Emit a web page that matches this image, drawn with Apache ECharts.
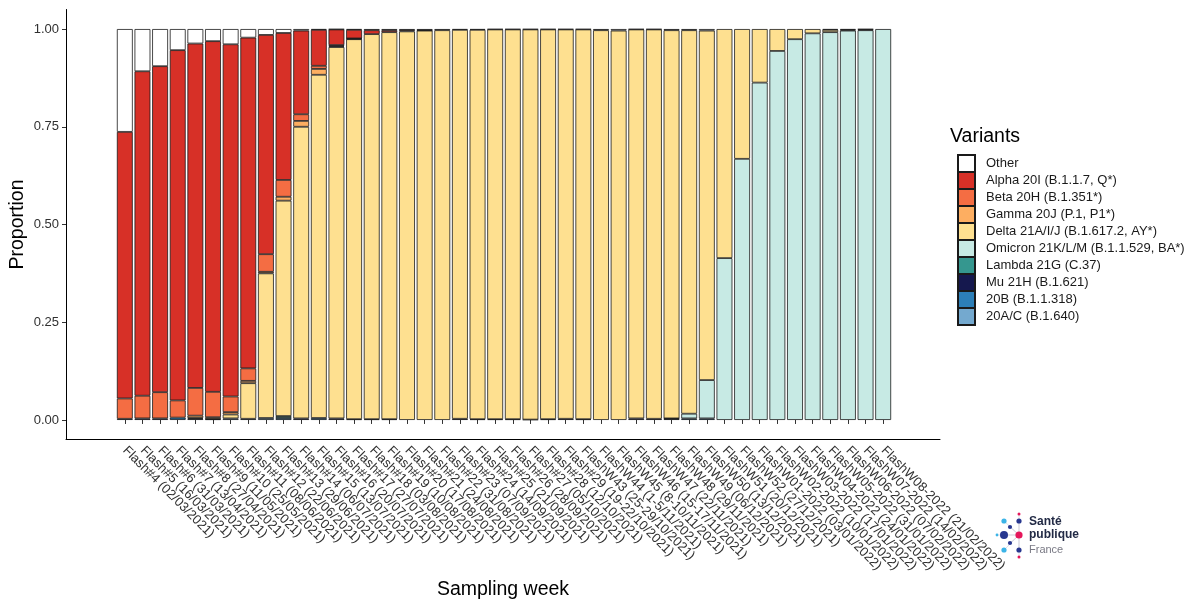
<!DOCTYPE html>
<html>
<head>
<meta charset="utf-8">
<script src="https://cdn.jsdelivr.net/npm/echarts@6/dist/echarts.min.js"></script>
<style>
  html, body { margin: 0; padding: 0; background: #fff; }
  #chart { width: 1191px; height: 600px; }
</style>
</head>
<body>
<div id="chart"></div>
<script>
// Sampling weeks (x categories)
const weeks = [
  'Flash#4 (02/03/2021)', 'Flash#5 (16/03/2021)', 'Flash#6 (31/03/2021)', 'Flash#7 (13/04/2021)',
  'Flash#8 (27/04/2021)', 'Flash#9 (11/05/2021)', 'Flash#10 (25/05/2021)', 'Flash#11 (08/06/2021)',
  'Flash#12 (22/06/2021)', 'Flash#13 (29/06/2021)', 'Flash#14 (06/07/2021)', 'Flash#15 (13/07/2021)',
  'Flash#16 (20/07/2021)', 'Flash#17 (27/07/2021)', 'Flash#18 (03/08/2021)', 'Flash#19 (10/08/2021)',
  'Flash#20 (17/08/2021)', 'Flash#21 (24/08/2021)', 'Flash#22 (31/08/2021)', 'Flash#23 (07/09/2021)',
  'Flash#24 (14/09/2021)', 'Flash#25 (21/09/2021)', 'Flash#26 (28/09/2021)', 'Flash#27 (05/10/2021)',
  'Flash#28 (12/10/2021)', 'Flash#29 (19-22/10/2021)', 'FlashW43 (25-29/10/2021)', 'FlashW44 (1-5/11/2021)',
  'FlashW45 (8-10/11/2021)', 'FlashW46 (15-17/11/2021)', 'FlashW47 (22/11/2021)', 'FlashW48 (29/11/2021)',
  'FlashW49 (06/12/2021)', 'FlashW50 (13/12/2021)', 'FlashW51 (20/12/2021)', 'FlashW52 (27/12/2021)',
  'FlashW01-2022 (03/01/2022)', 'FlashW02-2022 (10/01/2022)', 'FlashW03-2022 (17/01/2022)',
  'FlashW04-2022 (24/01/2022)', 'FlashW05-2022 (31/01/2022)', 'FlashW06-2022 (07/02/2022)',
  'FlashW07-2022 (14/02/2022)', 'FlashW08-2022 (21/02/2022)'
];

// Proportion of each variant per sampling week
const other = [0.263,0.108,0.095,0.054,0.037,0.031,0.039,0.022,0.015,0.010,
               0.004,0.002,0.001,0.002,0.003,0.003,0.003,0.003,0.003,0.002,
               0.002,0.001,0.001,0.001,0.001,0.001,0.001,0.003,0.004,0.001,
               0.001,0.003,0.003,0.004,0,0,0,0,0,0,
               0.002,0.002,0.001,0];
const alpha = [0.682,0.830,0.834,0.896,0.881,0.897,0.901,0.846,0.561,0.376,
               0.214,0.092,0.040,0.022,0.010,0.005,0.003,0.001,0,0,
               0,0,0,0,0,0,0,0,0,0,
               0,0,0,0,0,0,0,0,0,0,
               0,0,0,0];
const beta = [0.052,0.058,0.067,0.044,0.071,0.065,0.040,0.032,0.045,0.043,
              0.017,0.008,0.003,0.001,0,0,0,0,0,0,
              0,0,0,0,0,0,0,0,0,0,
              0,0,0,0,0,0,0,0,0,0,
              0,0,0,0];
const gamma = [0,0,0,0,0.006,0.004,0.006,0.006,0.004,0.010,
               0.015,0.015,0.002,0.001,0,0,0,0,0,0,
               0,0,0,0,0,0,0,0,0,0,
               0,0,0,0,0,0,0,0,0,0,
               0,0,0,0];
const delta = [0,0,0,0,0.002,0.001,0.010,0.091,0.370,0.551,
               0.746,0.878,0.950,0.972,0.985,0.990,0.994,0.996,0.997,0.995,
               0.996,0.997,0.997,0.998,0.997,0.996,0.997,0.997,0.996,0.995,
               0.996,0.993,0.981,0.894,0.586,0.332,0.137,0.056,0.026,0.011,
               0.006,0.002,0.002,0];
const omicron = [0,0,0,0,0,0,0,0,0,0,
                 0,0,0,0,0,0,0,0,0,0,
                 0,0,0,0,0,0,0,0,0,0,
                 0,0.001,0.012,0.098,0.414,0.668,0.863,0.944,0.974,0.989,
                 0.992,0.996,0.997,1.000];
const lambda = [0,0,0,0,0,0,0,0,0,0.005,
                0,0,0,0,0.002,0,0,0,0,0,
                0,0,0,0.001,0,0,0,0,0,0,
                0,0,0,0,0,0,0,0,0,0,
                0,0,0,0];
const mu = [0,0.004,0.004,0,0,0,0,0,0,0,
            0.004,0,0.004,0.002,0,0.002,0,0,0,0.003,
            0.002,0.002,0.002,0,0.002,0.003,0,0,0,0.004,
            0.003,0,0,0,0,0,0,0,0,0,
            0,0,0,0];
const b20B = [0.003,0,0,0.006,0,0,0,0,0,0.005,
              0,0.005,0,0,0,0,0,0,0,0,
              0,0,0,0,0,0,0.002,0,0,0,
              0,0.003,0.004,0.004,0,0,0,0,0,0,
              0,0,0,0];
const b20AC = [0,0,0,0,0.003,0.002,0.004,0.003,0.005,0,
               0,0,0,0,0,0,0,0,0,0,
               0,0,0,0,0,0,0,0,0,0,
               0,0,0,0,0,0,0,0,0,0,
               0,0,0,0];

// Legend labels, top to bottom
const variantNames = [
  'Other', 'Alpha 20I (B.1.1.7, Q*)', 'Beta 20H (B.1.351*)', 'Gamma 20J (P.1, P1*)',
  'Delta 21A/I/J (B.1.617.2, AY*)', 'Omicron 21K/L/M (B.1.1.529, BA*)', 'Lambda 21G (C.37)',
  'Mu 21H (B.1.621)', '20B (B.1.1.318)', '20A/C (B.1.640)'
];
const variantValues = [other, alpha, beta, gamma, delta, omicron, lambda, mu, b20B, b20AC];
const variantColors = ['#FFFFFF', '#D73027', '#F46D43', '#FDAE61', '#FEE090',
                       '#C7EAE4', '#35978F', '#15184E', '#2C7FB8', '#74A9CF'];

const yTicks = [0, 0.25, 0.5, 0.75, 1];

const FONT = 'Liberation Sans, Arial, sans-serif';

// Stacked from the bottom: last legend entry first
const series = [];
for (let k = variantNames.length - 1; k >= 0; k--) {
  series.push({
    name: variantNames[k],
    type: 'bar',
    stack: 'variants',
    xAxisIndex: 0,
    yAxisIndex: 0,
    barCategoryGap: '10%',
    data: variantValues[k].map(v => (v === 0 ? null : v)),
    itemStyle: { color: variantColors[k], borderColor: '#1a1a1a', borderWidth: 0.8 },
    emphasis: { disabled: true }
  });
}

// Santé publique France mark
const navy = '#27378F', pink = '#E5175B', sky = '#3CB4E7';
const hub = [1019, 535];
const dots = [
  [1019, 514, 1.5, pink], [1019, 521, 2.6, navy], [1004, 521, 2.6, sky], [1010, 527, 2.1, navy],
  [997, 535, 1.4, sky], [1004, 535, 4.0, navy], [1010, 543, 2.1, navy],
  [1004, 550, 2.6, sky], [1019, 550, 2.6, navy], [1019, 557, 1.5, pink]
];
const logo = [];
dots.forEach(d => logo.push({
  type: 'line', shape: { x1: hub[0], y1: hub[1], x2: d[0], y2: d[1] },
  style: { stroke: '#c9c9d6', lineWidth: 0.6 }, silent: true
}));
dots.forEach(d => logo.push({
  type: 'circle', shape: { cx: d[0], cy: d[1], r: d[2] }, style: { fill: d[3] }, silent: true
}));
logo.push({ type: 'circle', shape: { cx: hub[0], cy: hub[1], r: 3.6 }, style: { fill: pink }, silent: true });
logo.push({ type: 'text', x: 1029, y: 522, style: { text: 'Santé', fontFamily: FONT, fontSize: 12, fontWeight: 'bold', fill: '#222a45', verticalAlign: 'middle' } });
logo.push({ type: 'text', x: 1029, y: 535, style: { text: 'publique', fontFamily: FONT, fontSize: 12, fontWeight: 'bold', fill: '#222a45', verticalAlign: 'middle' } });
logo.push({ type: 'text', x: 1029, y: 550, style: { text: 'France', fontFamily: FONT, fontSize: 11, fill: '#7a7a85', verticalAlign: 'middle' } });

const chart = echarts.init(document.getElementById('chart'), null, { renderer: 'canvas' });
chart.setOption({
  animation: false,
  backgroundColor: '#fff',
  textStyle: { fontFamily: FONT },
  title: {
    text: 'Variants', left: 945, top: 122,
    textStyle: { fontFamily: FONT, fontSize: 19.5, fontWeight: 'normal', color: '#000' }
  },
  legend: {
    orient: 'vertical', left: 952, top: 149,
    itemWidth: 17, itemHeight: 17, itemGap: -2,
    icon: 'rect',
    selectedMode: false,
    data: variantNames,
    textStyle: { fontFamily: FONT, fontSize: 13, color: '#1a1a1a', padding: [0, 0, 0, 6] }
  },
  grid: [
    { left: 116, right: 299, top: 9.5, bottom: 160.5, outerBoundsMode: 'none', containLabel: false },
    { left: 66, right: 251, top: 9.5, bottom: 160.5, outerBoundsMode: 'none', containLabel: false }
  ],
  xAxis: [
    {
      type: 'category', gridIndex: 0, data: weeks,
      axisLine: { show: false },
      axisTick: { show: true, alignWithLabel: true, length: 4, lineStyle: { color: '#333', width: 1 } },
      axisLabel: { interval: 0, rotate: -45, fontFamily: FONT, fontSize: 13, color: '#303030', margin: 9 }
    },
    {
      type: 'value', gridIndex: 1, min: 0, max: 1,
      axisLine: { show: true, onZero: false, lineStyle: { color: '#000', width: 1 } },
      axisTick: { show: false }, axisLabel: { show: false }, splitLine: { show: false },
      name: 'Sampling week', nameLocation: 'middle', nameGap: 140, nameMoveOverlap: false,
      nameTextStyle: { fontFamily: FONT, fontSize: 19.5, color: '#000' }
    }
  ],
  yAxis: [
    {
      type: 'value', gridIndex: 0, min: -0.05, max: 1.05, offset: 50,
      axisLine: { show: true, lineStyle: { color: '#000', width: 1 } },
      axisTick: { show: true, length: 4, customValues: yTicks, lineStyle: { color: '#333' } },
      axisLabel: { customValues: yTicks, formatter: v => v.toFixed(2), fontFamily: FONT, fontSize: 13, color: '#303030', margin: 7 },
      splitLine: { show: false },
      name: 'Proportion', nameLocation: 'middle', nameGap: 38, nameMoveOverlap: false,
      nameTextStyle: { fontFamily: FONT, fontSize: 19.5, color: '#000' }
    },
    { type: 'value', gridIndex: 1, show: false, min: 0, max: 1 }
  ],
  graphic: logo,
  series: series
});
</script>
</body>
</html>
